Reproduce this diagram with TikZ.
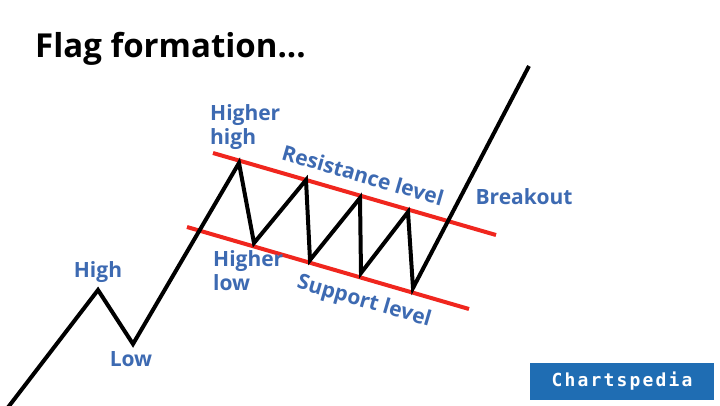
\documentclass[tikz,border=0pt]{standalone}
\usepackage{fontspec}
\setmainfont{Open Sans}
\newfontfamily\brandfont[LetterSpace=12]{DejaVu Sans Mono}
\definecolor{lblue}{HTML}{3D6AB2}
\definecolor{lred}{HTML}{F0261E}
\definecolor{boxblue}{HTML}{1F6DB3}
\begin{document}
\begin{tikzpicture}[x=1pt,y=-1pt,
  price/.style={line width=4pt,black,line join=miter},
  level/.style={line width=4pt,lred},
  lbl/.style={text=lblue,font=\bfseries\fontsize{21}{24}\selectfont,inner sep=0pt},
  lblL/.style={lbl,align=left,anchor=north west}]
\useasboundingbox (0,0) rectangle (720,405);
\fill[white] (0,0) rectangle (720,405);
% title
\node[anchor=west,inner sep=0pt,font=\bfseries\fontsize{33}{38}\selectfont] (title) at (35,49) {Flag formation...};
% price path coordinates
\coordinate (p0) at (6,410);
\coordinate (p1) at (98,290);
\coordinate (p2) at (133,344);
\coordinate (p3) at (239,163);
\coordinate (p4) at (254,243);
\coordinate (p5) at (306,180);
\coordinate (p6) at (310,260);
\coordinate (p7) at (360,198);
\coordinate (p8) at (361,273);
\coordinate (p9) at (408,212);
\coordinate (p10) at (413,288);
\coordinate (p11) at (529,66);
% levels
\coordinate (r0) at (213,153);
\coordinate (r1) at (496,235);
\coordinate (s0) at (187,227);
\coordinate (s1) at (469,309);
\draw[level] (r0) -- (r1);
\draw[level] (s0) -- (s1);
\draw[price] (p0) -- (p1) -- (p2) -- (p3) -- (p4) -- (p5) -- (p6) -- (p7) -- (p8) -- (p9) -- (p10) -- (p11);
% labels
\node[lbl] (high) at (98,272) {High};
\node[lbl] (low) at (131,359) {Low};
\node[lblL] (hh) at (210,104) {Higher\\high};
\node[lblL] (hl) at (213,250) {Higher\\low};
\node[lbl,rotate=-16.2] (res) at (363,175) {Resistance level};
\node[lbl,rotate=-16.2] (sup) at (364,302) {Support level};
\node[lbl] (brk) at (524,197) {Breakout};
% brand box
\node[fill=boxblue,minimum width=184pt,minimum height=37pt,inner sep=0pt,text=white,font=\brandfont\bfseries\fontsize{18}{20}\selectfont] (brand) at (622,381.5) {Chartspedia};
\end{tikzpicture}
\end{document}
